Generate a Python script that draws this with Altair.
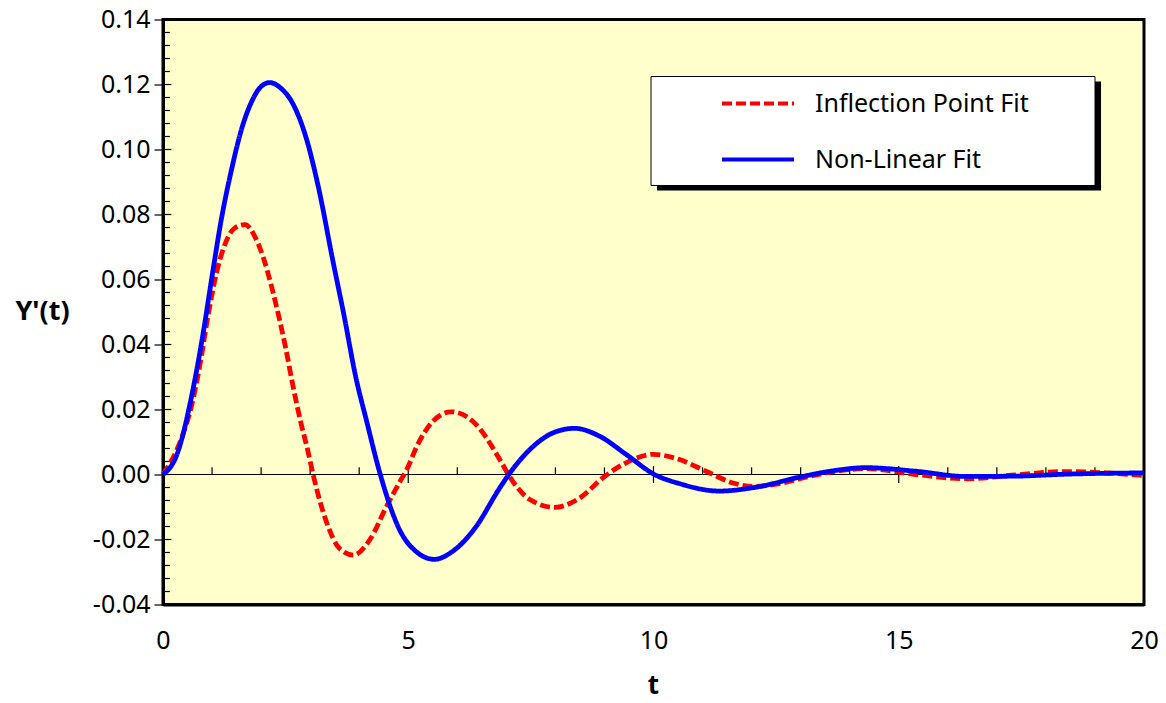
import altair as alt
import pandas as pd
import numpy as np

# ---- data ----
series_names = ["Inflection Point Fit", "Non-Linear Fit"]
series_colors = ["#FF0000", "#0000FF"]

t_red = [0, 0.41, 0.58, 0.75, 0.92, 1.09, 1.26, 1.46, 1.67, 1.87, 2.04, 2.21, 2.34, 2.5,
         2.64, 2.81, 2.95, 3.06, 3.33, 3.6, 3.88, 4.22, 4.56, 4.83, 4.97, 5.17, 5.51, 5.88,
         6.32, 6.86, 7.04, 7.48, 7.99, 8.5, 8.97, 9.44, 9.99, 10.53, 11.07, 11.62, 12.03,
         12.57, 12.98, 13.6, 14.33, 15.35, 16.37, 17.39, 18.4, 20.0]
y_red = [0, 0.0125, 0.021, 0.0335, 0.0490, 0.062, 0.0707, 0.0758, 0.0769, 0.0733, 0.067,
         0.058, 0.050, 0.039, 0.028, 0.016, 0.0075, 0.0, -0.0145, -0.0228, -0.0248, -0.020,
         -0.0097, -0.0022, 0.0015, 0.0085, 0.0165, 0.0193, 0.0163, 0.0048, 0.0, -0.0077,
         -0.0101, -0.0072, -0.001, 0.0036, 0.0062, 0.0046, 0.001, -0.0026, -0.0037, -0.0028,
         -0.0013, 0.0007, 0.0018, 0.0, -0.0013, -0.0001, 0.0009, -0.0003]

t_blue = [0, 0.28, 0.61, 0.82, 1.0, 1.2, 1.4, 1.6, 1.8, 1.97, 2.17, 2.4, 2.64, 2.91, 3.18,
          3.46, 3.69, 3.93, 4.15, 4.43, 4.82, 5.16, 5.53, 5.9, 6.37, 6.85, 7.05, 7.48, 7.95,
          8.39, 8.9, 9.44, 10.02, 10.53, 11.34, 12.09, 12.98, 13.6, 14.33, 15.35, 16.37,
          17.39, 18.4, 20.0]
y_blue = [0, 0.0060, 0.0261, 0.0436, 0.061, 0.0794, 0.0940, 0.1062, 0.1145, 0.1189, 0.1206,
          0.1189, 0.1143, 0.104, 0.0876, 0.066, 0.049, 0.030, 0.0165, 0.0, -0.0169, -0.0237,
          -0.0261, -0.0237, -0.0163, -0.0045, 0.0, 0.0077, 0.0128, 0.0142, 0.0118, 0.0062,
          0.0, -0.0028, -0.0051, -0.0039, -0.0008, 0.0010, 0.0021, 0.0010, -0.0006, -0.0005,
          0.0001, 0.0005]

x_ticks = [0, 5, 10, 15, 20]
x_minor = [v for v in range(1, 20) if v % 5 != 0]
y_ticks = [-0.04, -0.02, 0.0, 0.02, 0.04, 0.06, 0.08, 0.10, 0.12, 0.14]
y_minor = [round(-0.04 + 0.004 * i, 3) for i in range(46) if i % 5 != 0]

FONT = "Noto Sans"

df = pd.concat([
    pd.DataFrame({"t": t_red, "y": y_red, "series": series_names[0]}),
    pd.DataFrame({"t": t_blue, "y": y_blue, "series": series_names[1]}),
])

xs = alt.Scale(domain=[0, 20], nice=False, zero=False)
ys = alt.Scale(domain=[-0.04, 0.14], nice=False, zero=False)

# legend box & shadow (decoration)
shadow = alt.Chart(pd.DataFrame({"a": [0]})).mark_rect(color="black").encode(
    x=alt.value(494), x2=alt.value(938), y=alt.value(62), y2=alt.value(171))
box = alt.Chart(pd.DataFrame({"a": [0]})).mark_rect(fill="white", stroke="black", strokeWidth=1).encode(
    x=alt.value(488), x2=alt.value(932), y=alt.value(57), y2=alt.value(166))

# zero line
zero_df = pd.DataFrame({"t0": [0], "t1": [20], "y": [0.0]})
zero_line = alt.Chart(zero_df).mark_rule(color="black", strokeWidth=1).encode(
    x=alt.X("t0:Q", scale=xs), x2="t1:Q", y=alt.Y("y:Q", scale=ys))

# ticks on zero line
xminor_df = pd.DataFrame({"t": x_minor, "a": 0.0, "b": 0.0022})
xmajor_df = pd.DataFrame({"t": [5, 10, 15], "a": -0.0026, "b": 0.0026})
xminor = alt.Chart(xminor_df).mark_rule(color="black", strokeWidth=1.2).encode(
    x=alt.X("t:Q", scale=xs), y=alt.Y("a:Q", scale=ys), y2="b:Q")
xmajor = alt.Chart(xmajor_df).mark_rule(color="black", strokeWidth=1.2).encode(
    x=alt.X("t:Q", scale=xs), y=alt.Y("a:Q", scale=ys), y2="b:Q")

# inner ticks on y axis
yminor_df = pd.DataFrame({"y": y_minor, "a": 0.0, "b": 0.14})
ymajor_df = pd.DataFrame({"y": y_ticks, "a": 0.0, "b": 0.17})
yminor = alt.Chart(yminor_df).mark_rule(color="black", strokeWidth=1.2).encode(
    y=alt.Y("y:Q", scale=ys), x=alt.X("a:Q", scale=xs), x2="b:Q")
ymajor = alt.Chart(ymajor_df).mark_rule(color="black", strokeWidth=1.2).encode(
    y=alt.Y("y:Q", scale=ys), x=alt.X("a:Q", scale=xs), x2="b:Q")

lines = alt.Chart(df).mark_line(strokeWidth=4.8, interpolate="monotone").encode(
    x=alt.X("t:Q", scale=xs, title="t",
            axis=alt.Axis(values=x_ticks, ticks=False, grid=False, labelFlush=False,
                          labelOverlap=False, labelPadding=24, domainColor="black",
                          domainWidth=3, titleFontWeight="bold", titleX=490, titleY=81,
                          titleFontSize=26, titleBaseline="middle")),
    y=alt.Y("y:Q", scale=ys, title="Y'(t)",
            axis=alt.Axis(values=y_ticks, tickSize=9, tickColor="black",
                          labelExpr="(datum.value < 0 ? '-' : '') + format(abs(datum.value), '.2f')",
                          tickWidth=1.2, grid=False, labelPadding=4, domainColor="black",
                          domainWidth=3, titleAngle=0, titleFontWeight="bold",
                          titleFontSize=27, titleX=-121, titleY=292, titleAlign="center",
                          titleBaseline="middle")),
    color=alt.Color("series:N", scale=alt.Scale(domain=series_names, range=series_colors),
                    legend=alt.Legend(title=None, orient="none", legendX=557, legendY=46,
                                      symbolType="stroke", symbolSize=5184,
                                      symbolStrokeWidth=4, labelFontSize=25,
                                      labelOffset=19, labelFont=FONT, labelColor="black",
                                      labelLimit=600, rowPadding=5, padding=0)),
    strokeDash=alt.StrokeDash("series:N",
                              scale=alt.Scale(domain=series_names, range=[[10, 4], [1, 0]]),
                              legend=None),
    order=alt.Order("t:Q"),
)

chart = alt.layer(shadow, box, zero_line, xminor, xmajor, yminor, ymajor, lines).properties(
    width=981, height=585,
    autosize=alt.AutoSizeParams(type="none"),
    padding={"left": 163, "top": 19.5, "right": 22, "bottom": 98.5},
    background="white",
).configure_view(
    fill="#FFFFCC", stroke="black", strokeWidth=3
).configure_axis(
    labelFont=FONT, labelFontSize=25, labelColor="black",
    titleFont=FONT, titleFontSize=25, titleColor="black",
)

chart.save("out.html", embed_options={"renderer": "svg", "actions": False})
